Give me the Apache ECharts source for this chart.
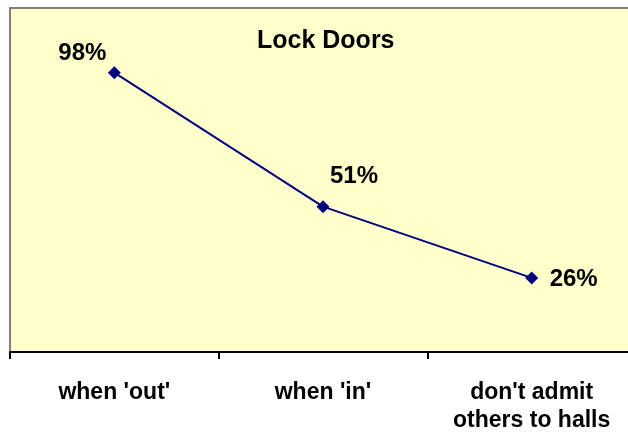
<!DOCTYPE html>
<html lang="en">
<head>
    <meta charset="UTF-8">
    <title>Lock Doors</title>
    <script src="https://cdn.jsdelivr.net/npm/echarts@6/dist/echarts.min.js"></script>
    <style>
        html, body, #chart {
            width: 628px;
            height: 432px;
            padding: 0;
            margin: 0;
            background: #fff;
        }
    </style>
</head>
<body>
<div id="chart"></div>
<script>
    var categories = ["when 'out'", "when 'in'", "don't admit\nothers to halls"];
    var percents = [98, 51, 26];

    // where each value label sits relative to its marker
    var labelOffsets = [[-32, -19], [31, -30], [42, 1]];

    var myChart = echarts.init(document.getElementById("chart"));

    myChart.setOption({
        animation: false,
        textStyle: {
            fontFamily: "Liberation Sans, Arial, sans-serif"
        },
        title: {
            text: "Lock Doors",
            left: 252,
            top: 24,
            textStyle: {
                color: "#000",
                fontSize: 25,
                fontWeight: "bold"
            }
        },
        grid: {
            left: 10,
            right: -8,
            top: 8,
            bottom: 80,
            outerBoundsMode: "none",
            show: true,
            backgroundColor: "#FFFFCC",
            borderColor: "#808080",
            borderWidth: 2
        },
        xAxis: {
            type: "category",
            data: categories,
            boundaryGap: true,
            axisLine: {lineStyle: {color: "#000", width: 2}},
            axisTick: {show: true, interval: 0, length: 7, lineStyle: {color: "#000", width: 2}},
            axisLabel: {
                interval: 0,
                margin: 27,
                color: "#000",
                fontSize: 23,
                fontWeight: "bold",
                lineHeight: 28
            },
            splitLine: {show: false}
        },
        yAxis: {
            type: "value",
            min: 0,
            max: 120.7,
            show: false,
            splitLine: {show: false}
        },
        series: [{
            type: "line",
            data: percents.map(function (v, i) {
                return {
                    value: v,
                    label: {offset: labelOffsets[i]}
                };
            }),
            symbol: "diamond",
            symbolSize: 13,
            lineStyle: {color: "#000080", width: 2},
            itemStyle: {color: "#000080"},
            label: {
                show: true,
                position: "inside",
                formatter: "{c}%",
                color: "#000",
                fontSize: 24,
                fontWeight: "bold"
            }
        }]
    });
</script>
</body>
</html>
